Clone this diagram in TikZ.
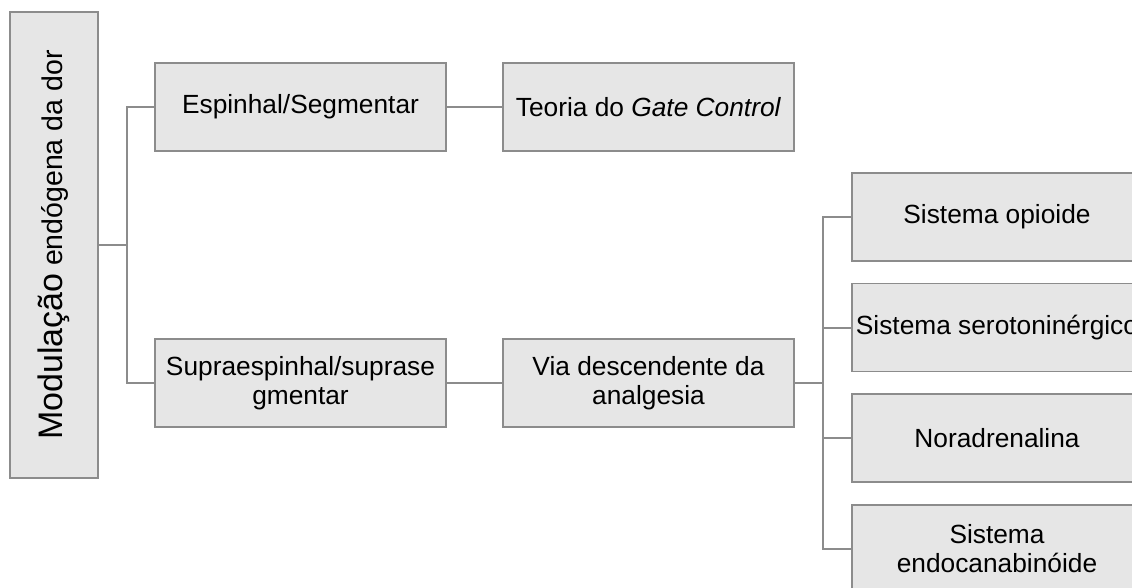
\documentclass[tikz,border=0pt]{standalone}
\usepackage{fontspec}
\setmainfont{Liberation Sans}
\definecolor{boxfill}{HTML}{E6E6E6}
\definecolor{boxline}{HTML}{8C8C8C}
\definecolor{connline}{HTML}{8C8C8C}
\tikzset{
  box/.style={draw=boxline, fill=boxfill, line width=1.3pt, inner sep=0pt,
    minimum width=291pt, minimum height=88pt, align=center,
    font=\fontsize{26.3}{29}\selectfont},
  rbox/.style={box, minimum width=290pt},
  conn/.style={draw=connline, line width=2pt}
}
\begin{document}
\begin{tikzpicture}[x=1pt,y=-1pt]
\useasboundingbox (0,0) rectangle (1132,587);
\clip (0,0) rectangle (1132,587);
\node[box, minimum width=466pt, minimum height=88pt, rotate=90] (root) at (54,245)
  {{\fontsize{34}{37}\selectfont Modulação} {\fontsize{28.5}{31}\selectfont endógena da dor}};
\node[box] (esp) at (300.5,107) {Espinhal/Segmentar};
\node[box] (sup) at (300.5,383) {Supraespinhal/suprase\\gmentar};
\node[box] (teo) at (648.5,107) {Teoria do \textit{Gate Control}};
\node[box] (via) at (648.5,383) {Via descendente da\\analgesia};
\node[rbox] (r1) at (997,217) {Sistema opioide};
\node[rbox] (r2) at (997,327.5) {Sistema serotoninérgico};
\node[rbox] (r3) at (997,438) {Noradrenalina};
\node[rbox] (r4) at (997,549) {Sistema\\endocanabinóide};
\coordinate (b1) at (127,245);
\coordinate (b2) at (823,383);
\draw[conn] (root.south) -- (b1);
\draw[conn] (b1) |- (esp.west);
\draw[conn] (b1) |- (sup.west);
\draw[conn] (esp.east) -- (teo.west);
\draw[conn] (sup.east) -- (via.west);
\draw[conn] (via.east) -- (b2);
\draw[conn] (b2) |- (r1.west);
\draw[conn] (b2) |- (r2.west);
\draw[conn] (b2) |- (r3.west);
\draw[conn] (b2) |- (r4.west);
\end{tikzpicture}
\end{document}
